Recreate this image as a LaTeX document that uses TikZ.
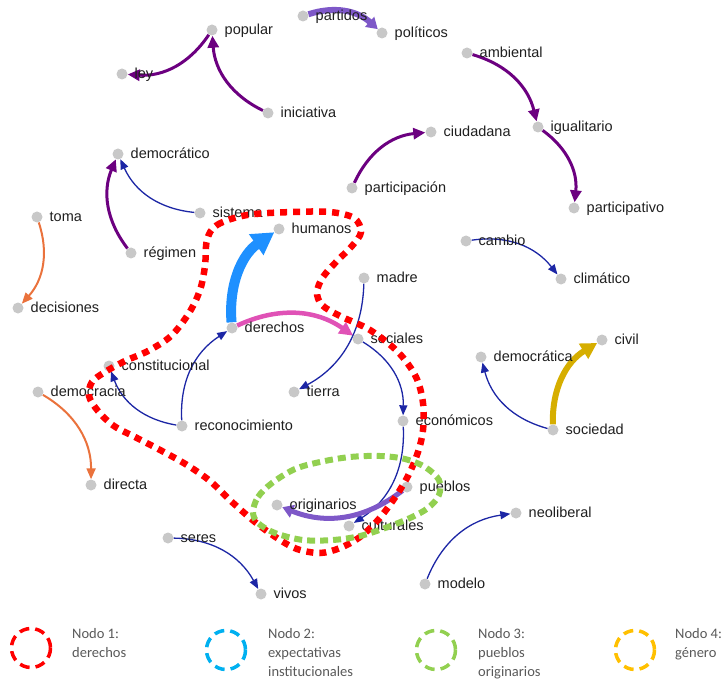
\documentclass[tikz,border=0pt]{standalone}
\usepackage{fontspec}
\setmainfont{Liberation Sans}
\newfontfamily\legfont{Carlito}
\usetikzlibrary{arrows.meta}
\pgfdeclarelayer{edges}
\pgfsetlayers{edges,main}
\definecolor{dotgray}{RGB}{200,200,200}
\definecolor{cpu}{RGB}{108,0,128}
\definecolor{cmp}{RGB}{126,88,200}
\definecolor{cdb}{RGB}{28,38,165}
\definecolor{cbl}{RGB}{30,144,255}
\definecolor{cpk}{RGB}{224,82,182}
\definecolor{cor}{RGB}{234,114,60}
\definecolor{cgd}{RGB}{214,174,0}
\definecolor{hred}{RGB}{255,0,0}
\definecolor{hgreen}{RGB}{146,208,80}
\definecolor{hblue}{RGB}{0,176,240}
\definecolor{hyel}{RGB}{255,192,0}
\definecolor{legtext}{RGB}{89,89,89}
\newcommand\wn[4]{\node[dot] (#1) at (#2,#3) {};
  \node[lab] (#1-t) at (#2+12.5,#3+4.5) {#4};}
\begin{document}
\begin{tikzpicture}[x=1pt,y=-1pt,
  dot/.style={circle,fill=dotgray,draw=none,minimum size=11pt,inner sep=0pt},
  lab/.style={anchor=base west,inner sep=0pt,font=\fontsize{14.5}{17}\selectfont,text=black!88},
  lnk/.style={bend left=30},
  pu/.style={lnk,draw=cpu,line width=3pt,-{Triangle[length=12pt,width=11pt]}},
  mp/.style={lnk,draw=cmp,line width=6pt,-{Triangle[length=11pt,width=13pt]}},
  db/.style={lnk,draw=cdb,line width=1.3pt,-{Triangle[length=10pt,width=8pt]}},
  org/.style={lnk,draw=cor,line width=2pt,-{Triangle[length=11pt,width=9pt]}},
  pk/.style={lnk,draw=cpk,line width=4.5pt,-{Triangle[length=14pt,width=13pt]}},
  bl/.style={lnk,draw=cbl,line width=10pt,-{Triangle[length=22pt,width=24pt]}},
  gd/.style={lnk,draw=cgd,line width=6pt,-{Triangle[length=16pt,width=17pt]}},
  hull/.style={line width=6.5pt,line cap=butt,dash pattern=on 7pt off 6pt},
  legc/.style={line width=3.5pt,dash pattern=on 10pt off 6pt},
  legt/.style={anchor=base west,inner sep=0pt,font=\legfont\fontsize{14.5}{17}\selectfont,text=legtext}]
\useasboundingbox (0,0) rectangle (723,679);
% nodes and labels
\wn{popular}{212}{30}{popular}
\wn{ley}{122}{74}{ley}
\wn{iniciativa}{268}{113}{iniciativa}
\wn{partidos}{303}{16}{partidos}
\wn{politicos}{382}{33}{políticos}
\wn{ambiental}{467}{53}{ambiental}
\wn{igualitario}{538}{127}{igualitario}
\wn{participativo}{574}{208}{participativo}
\wn{ciudadana}{431}{132}{ciudadana}
\wn{participacion}{352}{188}{participación}
\wn{democratico}{118}{154}{democrático}
\wn{sistema}{200}{213}{sistema}
\wn{regimen}{131}{253}{régimen}
\wn{toma}{37}{217}{toma}
\wn{decisiones}{18}{308}{decisiones}
\wn{humanos}{279}{229}{humanos}
\wn{cambio}{466}{241}{cambio}
\wn{climatico}{561}{279}{climático}
\wn{madre}{364}{278}{madre}
\wn{derechos}{232}{328}{derechos}
\wn{sociales}{358}{339}{sociales}
\wn{constitucional}{109}{366}{constitucional}
\wn{democracia}{38}{392}{democracia}
\wn{tierra}{294}{392}{tierra}
\wn{reconocimiento}{182}{426}{reconocimiento}
\wn{economicos}{403}{421}{económicos}
\wn{democratica}{481}{357}{democrática}
\wn{civil}{602}{340}{civil}
\wn{sociedad}{553}{430}{sociedad}
\wn{directa}{91}{485}{directa}
\wn{pueblos}{407}{487}{pueblos}
\wn{originarios}{277}{505}{originarios}
\wn{culturales}{349}{526}{culturales}
\wn{seres}{168}{538}{seres}
\wn{vivos}{261}{594}{vivos}
\wn{neoliberal}{516}{513}{neoliberal}
\wn{modelo}{425}{584}{modelo}
% edges
\begin{pgfonlayer}{edges}
\draw[pu] (popular) to (ley);
\draw[pu] (iniciativa) to (popular);
\draw[mp] (partidos) to (politicos);
\draw[pu] (ambiental) to (igualitario);
\draw[pu] (igualitario) to (participativo);
\draw[pu] (participacion) to (ciudadana);
\draw[pu] (regimen) to (democratico);
\draw[db] (sistema) to (democratico);
\draw[org] (toma) to (decisiones);
\draw[bl] (derechos) to (humanos);
\draw[pk] (derechos) to (sociales);
\draw[db] (reconocimiento) to (derechos);
\draw[db] (reconocimiento) to (constitucional);
\draw[db] (madre) to (tierra);
\draw[db] (sociales) to (economicos);
\draw[db] (economicos) to (culturales);
\draw[mp,line width=5pt] (pueblos) to (originarios);
\draw[db] (cambio) to (climatico);
\draw[gd] (sociedad) to (civil);
\draw[db] (sociedad) to (democratica);
\draw[org] (democracia) to (directa);
\draw[db] (seres) to (vivos);
\draw[db] (modelo) to (neoliberal);
\end{pgfonlayer}
% hulls
\draw[hull,draw=hred] plot[smooth cycle,tension=0.55] coordinates {
 (207,240) (217,225) (247,215) (293,212) (330,212) (354,218) (361,232)
 (352,246) (337,261) (323,277) (317,292) (322,305) (340,316) (370,330)
 (398,352) (416,377) (423,403) (423,430) (418,452) (408,476) (394,499)
 (378,520) (360,537) (340,548) (320,553) (297,549) (277,538) (255,522)
 (232,502) (210,481) (187,465) (162,451) (137,438) (114,426) (98,411)
 (89,396) (92,382) (105,372) (125,361) (148,351) (171,336) (189,313)
 (200,290) (205,266)};
\draw[hull,line width=6pt,dash pattern=on 8pt off 5pt,draw=hgreen] plot[smooth cycle,tension=0.55] coordinates {
 (253,512) (258,497) (272,483) (295,469) (320,462) (350,457) (380,456)
 (405,459) (425,467) (439,480) (439,495) (428,508) (410,518) (385,528)
 (360,536) (333,540) (303,540) (275,533) (258,523)};
% legend
\draw[legc,draw=hred] (31,648) circle[radius=19.5];
\draw[legc,draw=hblue] (226,650) circle[radius=19.5];
\draw[legc,draw=hgreen] (436,650) circle[radius=19.5];
\draw[legc,draw=hyel] (635,650) circle[radius=19.5];
\node[legt] (l1a) at (72,638) {Nodo 1:};
\node[legt] (l1b) at (72,657) {derechos};
\node[legt] (l2a) at (268,638) {Nodo 2:};
\node[legt] (l2b) at (268,657) {expectativas};
\node[legt] (l2c) at (268,676) {institucionales};
\node[legt] (l3a) at (478,638) {Nodo 3:};
\node[legt] (l3b) at (478,657) {pueblos};
\node[legt] (l3c) at (478,676) {originarios};
\node[legt] (l4a) at (675,638) {Nodo 4:};
\node[legt] (l4b) at (675,657) {género};
\end{tikzpicture}
\end{document}
